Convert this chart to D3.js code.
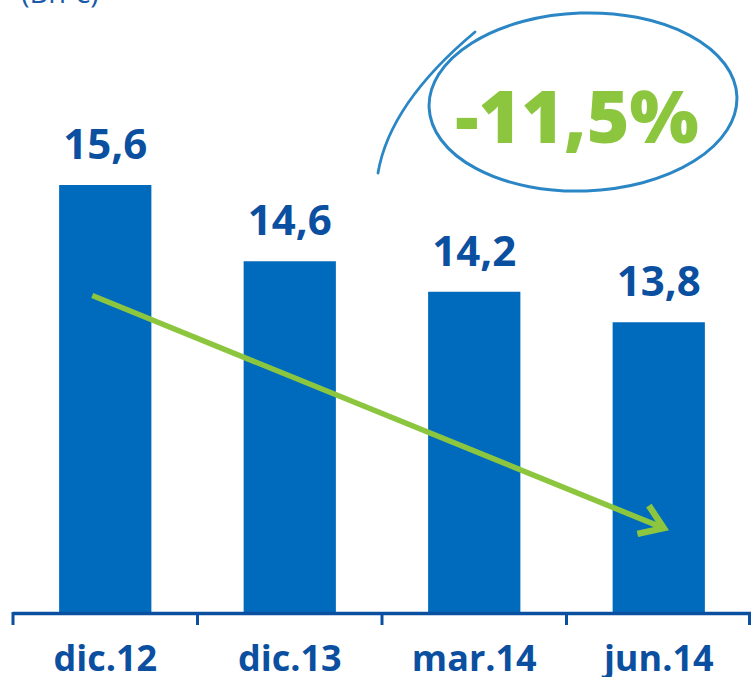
<!DOCTYPE html>
<html>
<head>
<meta charset="utf-8">
<script src="https://cdn.jsdelivr.net/npm/d3@7"></script>
<style>
    html, body { margin: 0; padding: 0; background: #fff; }
    svg { display: block; }
</style>
</head>
<body>
<div id="chart"></div>
<script>
/*global d3*/
var categories = ["dic.12", "dic.13", "mar.14", "jun.14"];
var values = [15.6, 14.6, 14.2, 13.8];
var valueLabels = ["15,6", "14,6", "14,2", "13,8"];
var unitLabel = "(Bn €)";
var changeLabel = "-11,5%";
// trend arrow, given in data terms (category, value)
var trendFrom = ["dic.12", 14.15];
var trendTo = ["jun.14", 11.1];

(function () {
    "use strict";

    var width = 751,
        height = 677,
        baseY = 612,
        blue = "#006bbd",
        darkBlue = "#0b4fa0",
        green = "#8cc63f",
        font = "'Open Sans', 'DejaVu Sans', sans-serif";

    var svg = d3.select("#chart").append("svg")
        .attr("width", width)
        .attr("height", height);

    var x = d3.scaleBand()
        .domain(categories)
        .range([13, 751])
        .paddingInner(0.5)
        .paddingOuter(0.25);

    var y = d3.scaleLinear()
        .domain([10, 18])
        .range([baseY, baseY - 8 * 76.25]);

    // unit label, cut off at the top like the source
    svg.append("text")
        .attr("x", 21)
        .attr("y", 3)
        .style("font-family", font)
        .style("font-size", "29px")
        .style("fill", "#1a5aa8")
        .text(unitLabel);

    // bars
    svg.selectAll("rect.bar")
        .data(values)
        .enter().append("rect")
        .attr("class", "bar")
        .attr("x", function (d, i) { return x(categories[i]); })
        .attr("y", function (d) { return y(d); })
        .attr("width", x.bandwidth())
        .attr("height", function (d) { return baseY - y(d); })
        .style("fill", blue);

    // value labels
    svg.selectAll("text.val")
        .data(values)
        .enter().append("text")
        .attr("class", "val")
        .attr("x", function (d, i) { return x(categories[i]) + x.bandwidth() / 2; })
        .attr("y", function (d) { return y(d) - 26; })
        .attr("text-anchor", "middle")
        .style("font-family", font)
        .style("font-weight", "bold")
        .style("font-size", "42px")
        .style("fill", darkBlue)
        .text(function (d, i) { return valueLabels[i]; });

    // x axis: line plus ticks on the band boundaries
    var step = x.step(),
        edges = categories.map(function (c) { return x(c) - x.bandwidth() / 2; });
    edges.push(edges[edges.length - 1] + step);

    svg.append("line")
        .attr("x1", x.range()[0])
        .attr("x2", x.range()[1])
        .attr("y1", baseY + 1.5)
        .attr("y2", baseY + 1.5)
        .style("stroke", darkBlue)
        .style("stroke-width", 3.5);

    svg.selectAll("line.tick")
        .data(edges)
        .enter().append("line")
        .attr("class", "tick")
        .attr("x1", function (d) { return Math.min(d, width - 1.5); })
        .attr("x2", function (d) { return Math.min(d, width - 1.5); })
        .attr("y1", baseY)
        .attr("y2", baseY + 13)
        .style("stroke", darkBlue)
        .style("stroke-width", 3);

    svg.selectAll("text.cat")
        .data(categories)
        .enter().append("text")
        .attr("class", "cat")
        .attr("x", function (d) { return x(d) + x.bandwidth() / 2; })
        .attr("y", 671)
        .attr("text-anchor", "middle")
        .style("font-family", font)
        .style("font-weight", "bold")
        .style("font-size", "36px")
        .style("fill", darkBlue)
        .text(function (d) { return d; });

    // trend arrow
    var x1 = x(trendFrom[0]) + x.bandwidth() / 2 - 13,
        y1 = y(trendFrom[1]),
        x2 = x(trendTo[0]) + x.bandwidth() / 2 + 5,
        y2 = y(trendTo[1]),
        ang = Math.atan2(y2 - y1, x2 - x1),
        head = 27;

    svg.append("line")
        .attr("x1", x1).attr("y1", y1)
        .attr("x2", x2 - 4 * Math.cos(ang)).attr("y2", y2 - 4 * Math.sin(ang))
        .style("stroke", green)
        .style("stroke-width", 5.5);

    svg.append("path")
        .attr("d", "M" + (x2 - head * Math.cos(ang - 0.6)) + "," + (y2 - head * Math.sin(ang - 0.6)) +
            "L" + x2 + "," + y2 +
            "L" + (x2 - head * Math.cos(ang + 0.6)) + "," + (y2 - head * Math.sin(ang + 0.6)))
        .style("fill", "none")
        .style("stroke", green)
        .style("stroke-width", 6.5)
        .style("stroke-linejoin", "miter");

    // hand drawn ellipse round the change
    var ann = svg.append("g").attr("transform", "translate(583,102) rotate(-2)");
    ann.append("ellipse")
        .attr("rx", 154)
        .attr("ry", 89)
        .style("fill", "none")
        .style("stroke", "#2b86c5")
        .style("stroke-width", 3);

    svg.append("path")
        .attr("d", "M378,173 C386,125 420,78 475,32")
        .style("fill", "none")
        .style("stroke", "#2b86c5")
        .style("stroke-width", 2.8)
        .style("stroke-linecap", "round");

    svg.append("text")
        .attr("x", 577)
        .attr("y", 143)
        .attr("text-anchor", "middle")
        .style("font-family", font)
        .style("font-weight", 800)
        .style("font-size", "73px")
        .style("fill", green)
        .text(changeLabel);
}());
</script>
</body>
</html>
